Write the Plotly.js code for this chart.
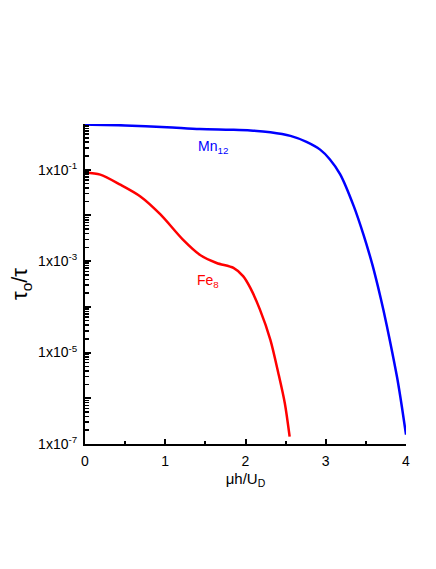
<!DOCTYPE html>
<html>
<head>
<meta charset="utf-8">
<script src="https://cdn.plot.ly/plotly-3.0.1.min.js"></script>
<style>
  html, body { margin: 0; padding: 0; background: #fff; }
  #chart { width: 436px; height: 569px; }
</style>
</head>
<body>
<div id="chart"></div>
<script>
'use strict';

// Mn12 curve (x in mu*h/U_D, y = tau0/tau)
const mnX = [0, 0.5, 1.02, 1.43, 1.81, 2.06, 2.31, 2.56, 2.76, 2.93, 3.05, 3.18, 3.35, 3.47, 3.58, 3.65, 3.72, 3.80, 3.89, 3.95, 4.0];
const mnY = [0.977, 0.933, 0.851, 0.776, 0.750, 0.724, 0.661, 0.550, 0.407, 0.275, 0.170, 0.0794, 0.0158, 3.8e-3, 8.5e-4, 2.8e-4, 8.3e-5, 1.8e-5, 2.8e-6, 6.3e-7, 1.6e-7];

// Fe8 curve
const feX = [0, 0.19, 0.44, 0.69, 0.94, 1.22, 1.43, 1.64, 1.85, 1.97, 2.06, 2.18, 2.31, 2.41, 2.49, 2.55];
const feY = [0.087, 0.078, 0.047, 0.026, 0.0105, 2.95e-3, 1.38e-3, 9.1e-4, 7.1e-4, 4.7e-4, 2.6e-4, 8.7e-5, 1.9e-5, 3.5e-6, 7.8e-7, 1.45e-7];

// y axis ticks
const yTickVals = [1e-7, 1e-6, 1e-5, 1e-4, 1e-3, 1e-2, 1e-1, 1];
const yTickText = ['1x10<sup>-7</sup>', '', '1x10<sup>-5</sup>', '', '1x10<sup>-3</sup>', '', '1x10<sup>-1</sup>', ''];
const minorDigits = [2, 3, 4, 5, 6, 7, 8, 9];
const yMinorVals = [];
for (let e = -7; e < 0; e += 1) {
  minorDigits.forEach(d => yMinorVals.push(d * Math.pow(10, e)));
}

// x axis ticks
const xTickVals = [0, 1, 2, 3, 4];
const xMinorVals = [0.5, 1.5, 2.5, 3.5];

const font = 'Liberation Sans, Arial, sans-serif';

const traces = [
  {
    x: mnX, y: mnY, type: 'scatter', mode: 'lines', name: 'Mn12',
    line: { color: '#0000ff', width: 2.5, shape: 'spline', smoothing: 0.8 }
  },
  {
    x: feX, y: feY, type: 'scatter', mode: 'lines', name: 'Fe8',
    line: { color: '#ff0000', width: 2.5, shape: 'spline', smoothing: 0.8 }
  }
];

const layout = {
  width: 436,
  height: 569,
  showlegend: false,
  paper_bgcolor: '#fff',
  plot_bgcolor: '#fff',
  margin: { l: 85, r: 30, t: 124, b: 125 },
  font: { family: font, color: '#000', size: 14 },
  xaxis: {
    range: [0, 4],
    showgrid: false, zeroline: false,
    showline: true, linecolor: '#000', linewidth: 2,
    tickmode: 'array', tickvals: xTickVals,
    ticks: 'inside', ticklen: 5, tickwidth: 2, tickcolor: '#000',
    ticklabelstandoff: 3,
    minor: { tickmode: 'array', tickvals: xMinorVals, ticks: 'inside', ticklen: 3, tickwidth: 2, tickcolor: '#000', showgrid: false },
    title: { text: 'μh/U<sub>D</sub>', font: { size: 15 }, standoff: 6 }
  },
  yaxis: {
    type: 'log',
    range: [-7, 0],
    showgrid: false, zeroline: false,
    showline: true, linecolor: '#000', linewidth: 2,
    tickmode: 'array', tickvals: yTickVals, ticktext: yTickText,
    ticks: 'inside', ticklen: 6, tickwidth: 2, tickcolor: '#000',
    ticklabelstandoff: 3,
    minor: { tickmode: 'array', tickvals: yMinorVals, ticks: 'inside', ticklen: 4, tickwidth: 1.5, tickcolor: '#000', showgrid: false },
    title: { text: 'τ<sub>o</sub>/τ', font: { size: 22 }, standoff: 4 }
  },
  annotations: [
    { x: 1.6, y: -0.5, xref: 'x', yref: 'y', text: 'Mn<sub>12</sub>', showarrow: false, font: { color: '#0000ff', size: 14 } },
    { x: 1.53, y: -3.43, xref: 'x', yref: 'y', text: 'Fe<sub>8</sub>', showarrow: false, font: { color: '#ff0000', size: 14 } }
  ]
};

Plotly.newPlot('chart', traces, layout, { displayModeBar: false, staticPlot: true });
</script>
</body>
</html>
